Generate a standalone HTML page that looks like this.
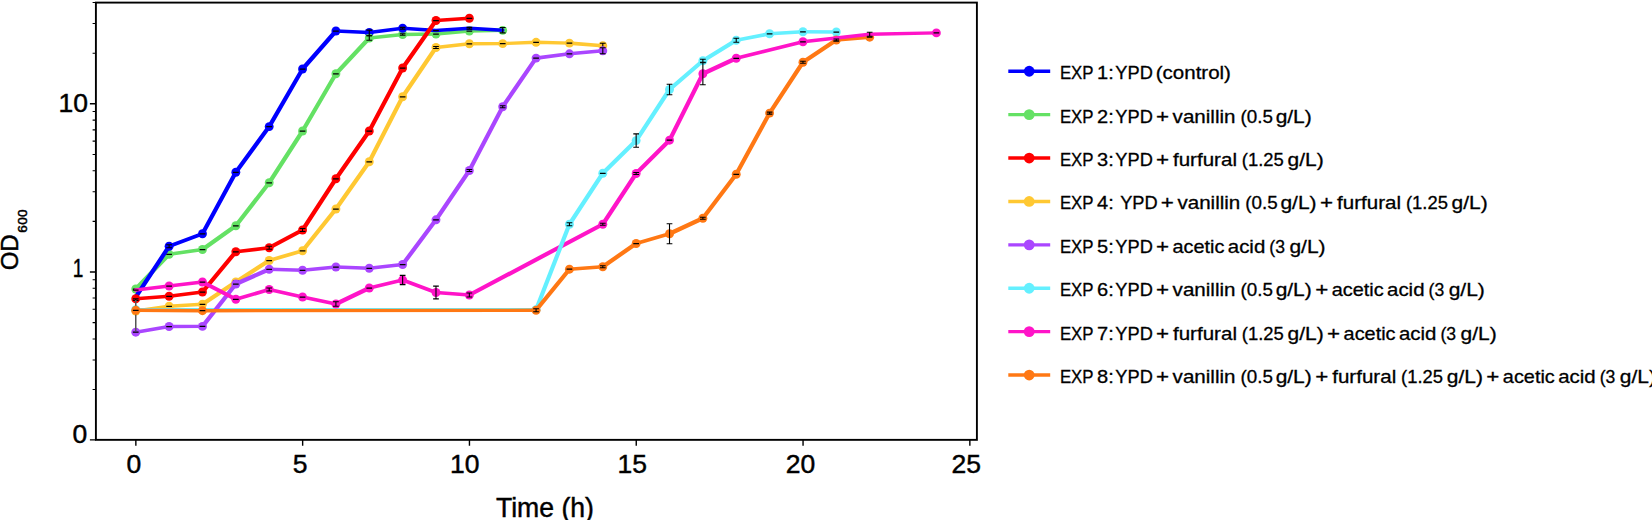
<!DOCTYPE html>
<html><head><meta charset="utf-8"><title>OD600 growth curves</title>
<style>html,body{margin:0;padding:0;background:#fff;overflow:hidden}svg{display:block}text{fill:#000;stroke:#000;stroke-width:.3px}.tl,.al{stroke-width:.45px}</style></head>
<body>
<svg width="1652" height="520" viewBox="0 0 1652 520">
<rect width="1652" height="520" fill="#fff"/>
<g>
<circle cx="369.27" cy="32.50" r="4.45" fill="#0000ff"/>
<path d="M135.75,289.00 L169.11,254.25" fill="none" stroke="#64e164" stroke-width="4.2" stroke-linejoin="round" stroke-linecap="round"/>
<path d="M169.11,254.25 L202.47,249.50" fill="none" stroke="#64e164" stroke-width="3.6" stroke-linejoin="round" stroke-linecap="round"/>
<path d="M202.47,249.50 L235.83,225.75 L269.19,182.75 L302.55,131.00 L335.91,73.75 L369.27,38.00" fill="none" stroke="#64e164" stroke-width="4.2" stroke-linejoin="round" stroke-linecap="round"/>
<path d="M369.27,38.00 L402.63,34.50" fill="none" stroke="#64e164" stroke-width="3.6" stroke-linejoin="round" stroke-linecap="round"/>
<path d="M402.63,34.50 L435.99,34.00" fill="none" stroke="#64e164" stroke-width="3.4" stroke-linejoin="round" stroke-linecap="round"/>
<path d="M435.99,34.00 L469.35,31.00" fill="none" stroke="#64e164" stroke-width="3.6" stroke-linejoin="round" stroke-linecap="round"/>
<path d="M469.35,31.00 L502.71,30.40" fill="none" stroke="#64e164" stroke-width="3.4" stroke-linejoin="round" stroke-linecap="round"/>
<circle cx="135.75" cy="289.00" r="4.45" fill="#64e164"/>
<circle cx="169.11" cy="254.25" r="4.45" fill="#64e164"/>
<circle cx="202.47" cy="249.50" r="4.45" fill="#64e164"/>
<circle cx="235.83" cy="225.75" r="4.45" fill="#64e164"/>
<circle cx="269.19" cy="182.75" r="4.45" fill="#64e164"/>
<circle cx="302.55" cy="131.00" r="4.45" fill="#64e164"/>
<circle cx="335.91" cy="73.75" r="4.45" fill="#64e164"/>
<circle cx="369.27" cy="38.00" r="4.45" fill="#64e164"/>
<circle cx="402.63" cy="34.50" r="4.45" fill="#64e164"/>
<circle cx="435.99" cy="34.00" r="4.45" fill="#64e164"/>
<circle cx="469.35" cy="31.00" r="4.45" fill="#64e164"/>
<circle cx="502.71" cy="30.40" r="4.45" fill="#64e164"/>
<path d="M132.90,289.00H138.60M166.26,254.25H171.96M199.62,249.50H205.32M232.98,225.75H238.68M266.34,182.75H272.04M299.70,131.00H305.40M333.06,73.75H338.76M433.14,34.00H438.84M466.50,31.00H472.20" stroke="#000" stroke-width="1.25" fill="none"/>
<path d="M369.27,35.70V40.30M366.42,35.70H372.12M366.42,40.30H372.12M402.63,33.70V35.30M399.78,33.70H405.48M399.78,35.30H405.48" stroke="#000" stroke-width="1.1" fill="none"/>
<path d="M135.75,297.00 L169.11,246.25" fill="none" stroke="#0000ff" stroke-width="4.2" stroke-linejoin="round" stroke-linecap="round"/>
<path d="M169.11,246.25 L202.47,233.75" fill="none" stroke="#0000ff" stroke-width="4.0" stroke-linejoin="round" stroke-linecap="round"/>
<path d="M202.47,233.75 L235.83,172.25 L269.19,126.60 L302.55,69.00 L335.91,31.00" fill="none" stroke="#0000ff" stroke-width="4.2" stroke-linejoin="round" stroke-linecap="round"/>
<path d="M335.91,31.00 L369.27,32.50" fill="none" stroke="#0000ff" stroke-width="3.4" stroke-linejoin="round" stroke-linecap="round"/>
<path d="M369.27,32.50 L402.63,28.25 L435.99,30.50 L469.35,28.25 L502.71,30.20" fill="none" stroke="#0000ff" stroke-width="3.6" stroke-linejoin="round" stroke-linecap="round"/>
<circle cx="169.11" cy="246.25" r="4.45" fill="#0000ff"/>
<circle cx="202.47" cy="233.75" r="4.45" fill="#0000ff"/>
<circle cx="235.83" cy="172.25" r="4.45" fill="#0000ff"/>
<circle cx="269.19" cy="126.60" r="4.45" fill="#0000ff"/>
<circle cx="302.55" cy="69.00" r="4.45" fill="#0000ff"/>
<circle cx="335.91" cy="31.00" r="4.45" fill="#0000ff"/>
<circle cx="402.63" cy="28.25" r="4.45" fill="#0000ff"/>
<path d="M199.62,233.75H205.32M232.98,172.25H238.68M266.34,126.60H272.04M299.70,69.00H305.40M333.06,31.00H338.76M433.14,30.50H438.84" stroke="#000" stroke-width="1.25" fill="none"/>
<path d="M169.11,244.75V247.75M166.26,244.75H171.96M166.26,247.75H171.96M369.27,30.10V35.70M366.42,30.10H372.12M366.42,35.70H372.12M402.63,27.35V29.15M399.78,27.35H405.48M399.78,29.15H405.48M469.35,27.35V29.15M466.50,27.35H472.20M466.50,29.15H472.20M502.71,27.50V32.90M499.86,27.50H505.56M499.86,32.90H505.56" stroke="#000" stroke-width="1.1" fill="none"/>
<path d="M135.75,311.00 L169.11,306.25 L202.47,304.25" fill="none" stroke="#ffc832" stroke-width="3.6" stroke-linejoin="round" stroke-linecap="round"/>
<path d="M202.47,304.25 L235.83,282.00 L269.19,260.50" fill="none" stroke="#ffc832" stroke-width="4.2" stroke-linejoin="round" stroke-linecap="round"/>
<path d="M269.19,260.50 L302.55,250.75" fill="none" stroke="#ffc832" stroke-width="3.8" stroke-linejoin="round" stroke-linecap="round"/>
<path d="M302.55,250.75 L335.91,209.00 L369.27,161.75 L402.63,96.75 L435.99,47.50" fill="none" stroke="#ffc832" stroke-width="4.2" stroke-linejoin="round" stroke-linecap="round"/>
<path d="M435.99,47.50 L469.35,43.75" fill="none" stroke="#ffc832" stroke-width="3.6" stroke-linejoin="round" stroke-linecap="round"/>
<path d="M469.35,43.75 L502.71,43.60 L536.07,42.30 L569.43,43.10" fill="none" stroke="#ffc832" stroke-width="3.4" stroke-linejoin="round" stroke-linecap="round"/>
<path d="M569.43,43.10 L602.79,45.70" fill="none" stroke="#ffc832" stroke-width="3.6" stroke-linejoin="round" stroke-linecap="round"/>
<circle cx="135.75" cy="311.00" r="4.45" fill="#ffc832"/>
<circle cx="169.11" cy="306.25" r="4.45" fill="#ffc832"/>
<circle cx="202.47" cy="304.25" r="4.45" fill="#ffc832"/>
<circle cx="235.83" cy="282.00" r="4.45" fill="#ffc832"/>
<circle cx="269.19" cy="260.50" r="4.45" fill="#ffc832"/>
<circle cx="302.55" cy="250.75" r="4.45" fill="#ffc832"/>
<circle cx="335.91" cy="209.00" r="4.45" fill="#ffc832"/>
<circle cx="369.27" cy="161.75" r="4.45" fill="#ffc832"/>
<circle cx="402.63" cy="96.75" r="4.45" fill="#ffc832"/>
<circle cx="435.99" cy="47.50" r="4.45" fill="#ffc832"/>
<circle cx="469.35" cy="43.75" r="4.45" fill="#ffc832"/>
<circle cx="502.71" cy="43.60" r="4.45" fill="#ffc832"/>
<circle cx="536.07" cy="42.30" r="4.45" fill="#ffc832"/>
<circle cx="569.43" cy="43.10" r="4.45" fill="#ffc832"/>
<circle cx="602.79" cy="45.70" r="4.45" fill="#ffc832"/>
<path d="M132.90,311.00H138.60M166.26,306.25H171.96M199.62,304.25H205.32M266.34,260.50H272.04M299.70,250.75H305.40M333.06,209.00H338.76M366.42,161.75H372.12M399.78,96.75H405.48M466.50,43.75H472.20M499.86,43.60H505.56M533.22,42.30H538.92M566.58,43.10H572.28" stroke="#000" stroke-width="1.25" fill="none"/>
<path d="M235.83,280.50V283.50M232.98,280.50H238.68M232.98,283.50H238.68M435.99,46.50V48.50M433.14,46.50H438.84M433.14,48.50H438.84M602.79,43.20V48.20M599.94,43.20H605.64M599.94,48.20H605.64" stroke="#000" stroke-width="1.1" fill="none"/>
<path d="M135.75,298.75 L169.11,296.25 L202.47,292.00" fill="none" stroke="#ff0000" stroke-width="3.6" stroke-linejoin="round" stroke-linecap="round"/>
<path d="M202.47,292.00 L235.83,251.75" fill="none" stroke="#ff0000" stroke-width="4.2" stroke-linejoin="round" stroke-linecap="round"/>
<path d="M235.83,251.75 L269.19,247.75" fill="none" stroke="#ff0000" stroke-width="3.6" stroke-linejoin="round" stroke-linecap="round"/>
<path d="M269.19,247.75 L302.55,230.00 L335.91,178.75 L369.27,131.00 L402.63,68.00 L435.99,20.50" fill="none" stroke="#ff0000" stroke-width="4.2" stroke-linejoin="round" stroke-linecap="round"/>
<path d="M435.99,20.50 L469.35,18.25" fill="none" stroke="#ff0000" stroke-width="3.6" stroke-linejoin="round" stroke-linecap="round"/>
<circle cx="135.75" cy="298.75" r="4.45" fill="#ff0000"/>
<circle cx="169.11" cy="296.25" r="4.45" fill="#ff0000"/>
<circle cx="202.47" cy="292.00" r="4.45" fill="#ff0000"/>
<circle cx="235.83" cy="251.75" r="4.45" fill="#ff0000"/>
<circle cx="269.19" cy="247.75" r="4.45" fill="#ff0000"/>
<circle cx="302.55" cy="230.00" r="4.45" fill="#ff0000"/>
<circle cx="335.91" cy="178.75" r="4.45" fill="#ff0000"/>
<circle cx="369.27" cy="131.00" r="4.45" fill="#ff0000"/>
<circle cx="402.63" cy="68.00" r="4.45" fill="#ff0000"/>
<circle cx="435.99" cy="20.50" r="4.45" fill="#ff0000"/>
<circle cx="469.35" cy="18.25" r="4.45" fill="#ff0000"/>
<path d="M166.26,296.25H171.96M199.62,292.00H205.32M232.98,251.75H238.68M333.06,178.75H338.76M366.42,131.00H372.12M399.78,68.00H405.48M433.14,20.50H438.84M466.50,18.25H472.20" stroke="#000" stroke-width="1.25" fill="none"/>
<path d="M135.75,298.80V300.40M132.90,298.80H138.60M132.90,300.40H138.60M269.19,246.25V249.25M266.34,246.25H272.04M266.34,249.25H272.04M302.55,228.50V231.50M299.70,228.50H305.40M299.70,231.50H305.40" stroke="#000" stroke-width="1.1" fill="none"/>
<path d="M469.35,295.00 L602.79,224.25" fill="none" stroke="#ff14c8" stroke-width="4.2" stroke-linejoin="round" stroke-linecap="round"/>
<path d="M135.75,309.65 L536.07,309.65" fill="none" stroke="#64f0ff" stroke-width="3.4" stroke-linejoin="round" stroke-linecap="round"/>
<path d="M536.07,309.65 L569.43,224.25 L602.79,173.25 L636.15,140.60 L669.51,89.50 L702.87,60.75 L736.23,40.25" fill="none" stroke="#64f0ff" stroke-width="4.2" stroke-linejoin="round" stroke-linecap="round"/>
<path d="M736.23,40.25 L769.59,33.75" fill="none" stroke="#64f0ff" stroke-width="3.8" stroke-linejoin="round" stroke-linecap="round"/>
<path d="M769.59,33.75 L802.95,31.75" fill="none" stroke="#64f0ff" stroke-width="3.6" stroke-linejoin="round" stroke-linecap="round"/>
<path d="M802.95,31.75 L836.31,32.00" fill="none" stroke="#64f0ff" stroke-width="3.4" stroke-linejoin="round" stroke-linecap="round"/>
<circle cx="135.75" cy="309.65" r="4.45" fill="#64f0ff"/>
<circle cx="536.07" cy="309.65" r="4.45" fill="#64f0ff"/>
<circle cx="569.43" cy="224.25" r="4.45" fill="#64f0ff"/>
<circle cx="602.79" cy="173.25" r="4.45" fill="#64f0ff"/>
<circle cx="636.15" cy="140.60" r="4.45" fill="#64f0ff"/>
<circle cx="669.51" cy="89.50" r="4.45" fill="#64f0ff"/>
<circle cx="702.87" cy="60.75" r="4.45" fill="#64f0ff"/>
<circle cx="736.23" cy="40.25" r="4.45" fill="#64f0ff"/>
<circle cx="769.59" cy="33.75" r="4.45" fill="#64f0ff"/>
<circle cx="802.95" cy="31.75" r="4.45" fill="#64f0ff"/>
<circle cx="836.31" cy="32.00" r="4.45" fill="#64f0ff"/>
<path d="M132.90,309.65H138.60M533.22,309.65H538.92M599.94,173.25H605.64M766.74,33.75H772.44M800.10,31.75H805.80M833.46,32.00H839.16" stroke="#000" stroke-width="1.25" fill="none"/>
<path d="M569.43,222.75V225.75M566.58,222.75H572.28M566.58,225.75H572.28M636.15,133.90V147.30M633.30,133.90H639.00M633.30,147.30H639.00M669.51,84.30V94.70M666.66,84.30H672.36M666.66,94.70H672.36M702.87,59.25V62.25M700.02,59.25H705.72M700.02,62.25H705.72M736.23,38.25V42.25M733.38,38.25H739.08M733.38,42.25H739.08" stroke="#000" stroke-width="1.1" fill="none"/>
<path d="M135.75,332.20 L169.11,326.50" fill="none" stroke="#aa46ff" stroke-width="3.6" stroke-linejoin="round" stroke-linecap="round"/>
<path d="M169.11,326.50 L202.47,326.40" fill="none" stroke="#aa46ff" stroke-width="3.4" stroke-linejoin="round" stroke-linecap="round"/>
<path d="M202.47,326.40 L235.83,284.00 L269.19,269.25" fill="none" stroke="#aa46ff" stroke-width="4.2" stroke-linejoin="round" stroke-linecap="round"/>
<path d="M269.19,269.25 L302.55,270.25" fill="none" stroke="#aa46ff" stroke-width="3.4" stroke-linejoin="round" stroke-linecap="round"/>
<path d="M302.55,270.25 L335.91,267.00" fill="none" stroke="#aa46ff" stroke-width="3.6" stroke-linejoin="round" stroke-linecap="round"/>
<path d="M335.91,267.00 L369.27,268.25" fill="none" stroke="#aa46ff" stroke-width="3.4" stroke-linejoin="round" stroke-linecap="round"/>
<path d="M369.27,268.25 L402.63,264.50" fill="none" stroke="#aa46ff" stroke-width="3.6" stroke-linejoin="round" stroke-linecap="round"/>
<path d="M402.63,264.50 L435.99,219.80 L469.35,170.50 L502.71,106.75 L536.07,58.10" fill="none" stroke="#aa46ff" stroke-width="4.2" stroke-linejoin="round" stroke-linecap="round"/>
<path d="M536.07,58.10 L569.43,53.80 L602.79,50.80" fill="none" stroke="#aa46ff" stroke-width="3.6" stroke-linejoin="round" stroke-linecap="round"/>
<circle cx="135.75" cy="332.20" r="4.45" fill="#aa46ff"/>
<circle cx="169.11" cy="326.50" r="4.45" fill="#aa46ff"/>
<circle cx="202.47" cy="326.40" r="4.45" fill="#aa46ff"/>
<circle cx="235.83" cy="284.00" r="4.45" fill="#aa46ff"/>
<circle cx="269.19" cy="269.25" r="4.45" fill="#aa46ff"/>
<circle cx="302.55" cy="270.25" r="4.45" fill="#aa46ff"/>
<circle cx="335.91" cy="267.00" r="4.45" fill="#aa46ff"/>
<circle cx="369.27" cy="268.25" r="4.45" fill="#aa46ff"/>
<circle cx="402.63" cy="264.50" r="4.45" fill="#aa46ff"/>
<circle cx="435.99" cy="219.80" r="4.45" fill="#aa46ff"/>
<circle cx="469.35" cy="170.50" r="4.45" fill="#aa46ff"/>
<circle cx="502.71" cy="106.75" r="4.45" fill="#aa46ff"/>
<circle cx="536.07" cy="58.10" r="4.45" fill="#aa46ff"/>
<circle cx="569.43" cy="53.80" r="4.45" fill="#aa46ff"/>
<circle cx="602.79" cy="50.80" r="4.45" fill="#aa46ff"/>
<path d="M135.75,300V331" stroke="#555" stroke-width="1.5" fill="none"/>
<path d="M132.90,332.20H138.60M166.26,326.50H171.96M199.62,326.40H205.32M232.98,284.00H238.68M266.34,269.25H272.04M299.70,270.25H305.40M333.06,267.00H338.76M366.42,268.25H372.12M399.78,264.50H405.48M433.14,219.80H438.84M533.22,58.10H538.92M566.58,53.80H572.28" stroke="#000" stroke-width="1.25" fill="none"/>
<path d="M469.35,169.50V171.50M466.50,169.50H472.20M466.50,171.50H472.20M502.71,105.75V107.75M499.86,105.75H505.56M499.86,107.75H505.56M602.79,47.80V53.80M599.94,47.80H605.64M599.94,53.80H605.64" stroke="#000" stroke-width="1.1" fill="none"/>
<path d="M135.75,310.30 L202.47,310.70 L536.07,310.30" fill="none" stroke="#ff7814" stroke-width="3.4" stroke-linejoin="round" stroke-linecap="round"/>
<path d="M536.07,310.30 L569.43,269.20" fill="none" stroke="#ff7814" stroke-width="4.2" stroke-linejoin="round" stroke-linecap="round"/>
<path d="M569.43,269.20 L602.79,266.75" fill="none" stroke="#ff7814" stroke-width="3.6" stroke-linejoin="round" stroke-linecap="round"/>
<path d="M602.79,266.75 L636.15,243.50" fill="none" stroke="#ff7814" stroke-width="4.2" stroke-linejoin="round" stroke-linecap="round"/>
<path d="M636.15,243.50 L669.51,233.75" fill="none" stroke="#ff7814" stroke-width="3.8" stroke-linejoin="round" stroke-linecap="round"/>
<path d="M669.51,233.75 L702.87,218.25 L736.23,174.25 L769.59,113.10 L802.95,62.25 L836.31,40.00" fill="none" stroke="#ff7814" stroke-width="4.2" stroke-linejoin="round" stroke-linecap="round"/>
<path d="M836.31,40.00 L869.67,37.20" fill="none" stroke="#ff7814" stroke-width="3.6" stroke-linejoin="round" stroke-linecap="round"/>
<circle cx="135.75" cy="310.30" r="4.45" fill="#ff7814"/>
<circle cx="202.47" cy="310.70" r="4.45" fill="#ff7814"/>
<circle cx="536.07" cy="310.30" r="4.45" fill="#ff7814"/>
<circle cx="569.43" cy="269.20" r="4.45" fill="#ff7814"/>
<circle cx="602.79" cy="266.75" r="4.45" fill="#ff7814"/>
<circle cx="636.15" cy="243.50" r="4.45" fill="#ff7814"/>
<circle cx="669.51" cy="233.75" r="4.45" fill="#ff7814"/>
<circle cx="702.87" cy="218.25" r="4.45" fill="#ff7814"/>
<circle cx="736.23" cy="174.25" r="4.45" fill="#ff7814"/>
<circle cx="769.59" cy="113.10" r="4.45" fill="#ff7814"/>
<circle cx="802.95" cy="62.25" r="4.45" fill="#ff7814"/>
<circle cx="836.31" cy="40.00" r="4.45" fill="#ff7814"/>
<circle cx="869.67" cy="37.20" r="4.45" fill="#ff7814"/>
<path d="M132.90,310.30H138.60M199.62,310.70H205.32M566.58,269.20H572.28M633.30,243.50H639.00M733.38,174.25H739.08M866.82,37.20H872.52" stroke="#000" stroke-width="1.25" fill="none"/>
<path d="M536.07,308.80V311.80M533.22,308.80H538.92M533.22,311.80H538.92M602.79,265.75V267.75M599.94,265.75H605.64M599.94,267.75H605.64M669.51,223.75V243.75M666.66,223.75H672.36M666.66,243.75H672.36M702.87,217.25V219.25M700.02,217.25H705.72M700.02,219.25H705.72M769.59,112.10V114.10M766.74,112.10H772.44M766.74,114.10H772.44M802.95,61.25V63.25M800.10,61.25H805.80M800.10,63.25H805.80M836.31,39.00V41.00M833.46,39.00H839.16M833.46,41.00H839.16" stroke="#000" stroke-width="1.1" fill="none"/>
<path d="M135.75,290.00 L169.11,286.00 L202.47,282.00" fill="none" stroke="#ff14c8" stroke-width="3.6" stroke-linejoin="round" stroke-linecap="round"/>
<path d="M202.47,282.00 L235.83,299.25" fill="none" stroke="#ff14c8" stroke-width="4.2" stroke-linejoin="round" stroke-linecap="round"/>
<path d="M235.83,299.25 L269.19,289.50 L302.55,297.00 L335.91,304.00" fill="none" stroke="#ff14c8" stroke-width="3.8" stroke-linejoin="round" stroke-linecap="round"/>
<path d="M335.91,304.00 L369.27,288.00" fill="none" stroke="#ff14c8" stroke-width="4.2" stroke-linejoin="round" stroke-linecap="round"/>
<path d="M369.27,288.00 L402.63,280.00" fill="none" stroke="#ff14c8" stroke-width="3.8" stroke-linejoin="round" stroke-linecap="round"/>
<path d="M402.63,280.00 L435.99,292.50" fill="none" stroke="#ff14c8" stroke-width="4.0" stroke-linejoin="round" stroke-linecap="round"/>
<path d="M435.99,292.50 L469.35,295.00" fill="none" stroke="#ff14c8" stroke-width="3.6" stroke-linejoin="round" stroke-linecap="round"/>
<path d="M602.79,224.25 L636.15,173.50 L669.51,140.20 L702.87,73.75 L736.23,58.25" fill="none" stroke="#ff14c8" stroke-width="4.2" stroke-linejoin="round" stroke-linecap="round"/>
<path d="M736.23,58.25 L802.95,41.75" fill="none" stroke="#ff14c8" stroke-width="3.8" stroke-linejoin="round" stroke-linecap="round"/>
<path d="M802.95,41.75 L869.67,34.20" fill="none" stroke="#ff14c8" stroke-width="3.6" stroke-linejoin="round" stroke-linecap="round"/>
<path d="M869.67,34.20 L936.39,32.90" fill="none" stroke="#ff14c8" stroke-width="3.4" stroke-linejoin="round" stroke-linecap="round"/>
<circle cx="169.11" cy="286.00" r="4.45" fill="#ff14c8"/>
<circle cx="202.47" cy="282.00" r="4.45" fill="#ff14c8"/>
<circle cx="235.83" cy="299.25" r="4.45" fill="#ff14c8"/>
<circle cx="269.19" cy="289.50" r="4.45" fill="#ff14c8"/>
<circle cx="302.55" cy="297.00" r="4.45" fill="#ff14c8"/>
<circle cx="335.91" cy="304.00" r="4.45" fill="#ff14c8"/>
<circle cx="369.27" cy="288.00" r="4.45" fill="#ff14c8"/>
<circle cx="402.63" cy="280.00" r="4.45" fill="#ff14c8"/>
<circle cx="435.99" cy="292.50" r="4.45" fill="#ff14c8"/>
<circle cx="469.35" cy="295.00" r="4.45" fill="#ff14c8"/>
<circle cx="602.79" cy="224.25" r="4.45" fill="#ff14c8"/>
<circle cx="636.15" cy="173.50" r="4.45" fill="#ff14c8"/>
<circle cx="669.51" cy="140.20" r="4.45" fill="#ff14c8"/>
<circle cx="702.87" cy="73.75" r="4.45" fill="#ff14c8"/>
<circle cx="736.23" cy="58.25" r="4.45" fill="#ff14c8"/>
<circle cx="802.95" cy="41.75" r="4.45" fill="#ff14c8"/>
<circle cx="936.39" cy="32.90" r="4.45" fill="#ff14c8"/>
<path d="M132.90,290.00H138.60M166.26,286.00H171.96M199.62,282.00H205.32M232.98,299.25H238.68M299.70,297.00H305.40M366.42,288.00H372.12M666.66,140.20H672.36M733.38,58.25H739.08M800.10,41.75H805.80M933.54,32.90H939.24" stroke="#000" stroke-width="1.25" fill="none"/>
<path d="M269.19,288.00V291.00M266.34,288.00H272.04M266.34,291.00H272.04M335.91,301.80V306.20M333.06,301.80H338.76M333.06,306.20H338.76M402.63,275.40V284.60M399.78,275.40H405.48M399.78,284.60H405.48M435.99,286.10V298.90M433.14,286.10H438.84M433.14,298.90H438.84M469.35,293.00V297.00M466.50,293.00H472.20M466.50,297.00H472.20M602.79,223.25V225.25M599.94,223.25H605.64M599.94,225.25H605.64M636.15,172.50V174.50M633.30,172.50H639.00M633.30,174.50H639.00M702.87,62.75V84.75M700.02,62.75H705.72M700.02,84.75H705.72M869.67,32.20V36.20M866.82,32.20H872.52M866.82,36.20H872.52" stroke="#000" stroke-width="1.1" fill="none"/>
<path d="M836.31,39.00V41.00M833.46,39.00H839.16M833.46,41.00H839.16" stroke="#000" stroke-width="1.1" fill="none"/>
</g>
<rect x="95.9" y="2.6" width="881.0" height="437.25" fill="none" stroke="#000" stroke-width="1.9"/>
<path d="M135.85,439.85V445.75M302.65,439.85V445.75M469.45,439.85V445.75M636.25,439.85V445.75M803.05,439.85V445.75M969.85,439.85V445.75M95.9,272.00H89.9M95.9,103.80H89.9M95.9,439.85H89.9" stroke="#000" stroke-width="1.4" fill="none"/>
<path d="M95.9,389.57H92.60000000000001M95.9,359.95H92.60000000000001M95.9,338.93H92.60000000000001M95.9,322.63H92.60000000000001M95.9,309.31H92.60000000000001M95.9,298.05H92.60000000000001M95.9,288.30H92.60000000000001M95.9,279.70H92.60000000000001M95.9,221.37H92.60000000000001M95.9,191.75H92.60000000000001M95.9,170.73H92.60000000000001M95.9,154.43H92.60000000000001M95.9,141.11H92.60000000000001M95.9,129.85H92.60000000000001M95.9,120.10H92.60000000000001M95.9,111.50H92.60000000000001M95.9,53.17H92.60000000000001M95.9,23.55H92.60000000000001M95.9,2.53H92.60000000000001" stroke="#000" stroke-width="1.05" fill="none"/>
<text class="tl" x="133.89" y="473.05" font-size="26.5" text-anchor="middle" font-family="Liberation Sans, sans-serif">0</text>
<text class="tl" x="300.11" y="473.05" font-size="26.5" text-anchor="middle" font-family="Liberation Sans, sans-serif">5</text>
<text class="tl" x="464.82" y="473.05" font-size="26.5" text-anchor="middle" font-family="Liberation Sans, sans-serif">10</text>
<text class="tl" x="632.18" y="473.05" font-size="26.5" text-anchor="middle" font-family="Liberation Sans, sans-serif">15</text>
<text class="tl" x="800.55" y="473.05" font-size="26.5" text-anchor="middle" font-family="Liberation Sans, sans-serif">20</text>
<text class="tl" x="966.15" y="473.05" font-size="26.5" text-anchor="middle" font-family="Liberation Sans, sans-serif">25</text>
<text class="tl" x="79.75" y="442.90" font-size="26.5" text-anchor="middle" font-family="Liberation Sans, sans-serif">0</text>
<text class="tl" x="77.98" y="276.79" font-size="26.5" text-anchor="middle" textLength="10.6" lengthAdjust="spacingAndGlyphs" font-family="Liberation Sans, sans-serif">1</text>
<text class="tl" x="73.29" y="111.63" font-size="26.5" text-anchor="middle" font-family="Liberation Sans, sans-serif">10</text>
<text class="al" x="544.92" y="516.50" font-size="27" text-anchor="middle" textLength="98" lengthAdjust="spacingAndGlyphs" font-family="Liberation Sans, sans-serif">Time (h)</text>
<text class="al" transform="translate(17.7,270.3) rotate(-90)" font-size="24" font-family="Liberation Sans, sans-serif">OD<tspan font-size="13.6" dy="9.3" dx="1.6" letter-spacing="0.35">600</tspan></text>
<path d="M1008.3,71.25H1050.2" stroke="#0000ff" stroke-width="3.4" fill="none"/><circle cx="1029.2" cy="71.25" r="5.4" fill="#0000ff"/>
<text y="79.25" font-size="18.5" font-family="Liberation Sans, sans-serif"><tspan x="1059.91" textLength="33.32" lengthAdjust="spacingAndGlyphs">EXP</tspan> <tspan x="1097.01" textLength="16.72" lengthAdjust="spacingAndGlyphs">1:</tspan> <tspan x="1115.35" textLength="37.50" lengthAdjust="spacingAndGlyphs">YPD</tspan> <tspan x="1155.80" textLength="75.16" lengthAdjust="spacingAndGlyphs">(control)</tspan></text>
<path d="M1008.3,114.65H1050.2" stroke="#64e164" stroke-width="3.4" fill="none"/><circle cx="1029.2" cy="114.65" r="5.4" fill="#64e164"/>
<text y="122.65" font-size="18.5" font-family="Liberation Sans, sans-serif"><tspan x="1059.91" textLength="33.32" lengthAdjust="spacingAndGlyphs">EXP</tspan> <tspan x="1097.01" textLength="16.72" lengthAdjust="spacingAndGlyphs">2:</tspan> <tspan x="1115.35" textLength="37.50" lengthAdjust="spacingAndGlyphs">YPD</tspan> <tspan x="1155.97" textLength="13.08" lengthAdjust="spacingAndGlyphs">+</tspan> <tspan x="1172.64" textLength="62.88" lengthAdjust="spacingAndGlyphs">vanillin</tspan> <tspan x="1240.46" textLength="32.39" lengthAdjust="spacingAndGlyphs">(0.5</tspan> <tspan x="1275.65" textLength="36.08" lengthAdjust="spacingAndGlyphs">g/L)</tspan></text>
<path d="M1008.3,158.05H1050.2" stroke="#ff0000" stroke-width="3.4" fill="none"/><circle cx="1029.2" cy="158.05" r="5.4" fill="#ff0000"/>
<text y="166.05" font-size="18.5" font-family="Liberation Sans, sans-serif"><tspan x="1059.91" textLength="33.32" lengthAdjust="spacingAndGlyphs">EXP</tspan> <tspan x="1097.01" textLength="16.72" lengthAdjust="spacingAndGlyphs">3:</tspan> <tspan x="1115.35" textLength="37.50" lengthAdjust="spacingAndGlyphs">YPD</tspan> <tspan x="1155.97" textLength="13.08" lengthAdjust="spacingAndGlyphs">+</tspan> <tspan x="1172.99" textLength="63.96" lengthAdjust="spacingAndGlyphs">furfural</tspan> <tspan x="1241.87" textLength="41.97" lengthAdjust="spacingAndGlyphs">(1.25</tspan> <tspan x="1287.55" textLength="36.08" lengthAdjust="spacingAndGlyphs">g/L)</tspan></text>
<path d="M1008.3,201.45H1050.2" stroke="#ffc832" stroke-width="3.4" fill="none"/><circle cx="1029.2" cy="201.45" r="5.4" fill="#ffc832"/>
<text y="209.45" font-size="18.5" font-family="Liberation Sans, sans-serif"><tspan x="1059.91" textLength="33.32" lengthAdjust="spacingAndGlyphs">EXP</tspan> <tspan x="1097.01" textLength="16.72" lengthAdjust="spacingAndGlyphs">4:</tspan>  <tspan x="1120.15" textLength="37.50" lengthAdjust="spacingAndGlyphs">YPD</tspan> <tspan x="1160.77" textLength="13.08" lengthAdjust="spacingAndGlyphs">+</tspan> <tspan x="1177.44" textLength="62.88" lengthAdjust="spacingAndGlyphs">vanillin</tspan> <tspan x="1245.26" textLength="32.39" lengthAdjust="spacingAndGlyphs">(0.5</tspan> <tspan x="1280.45" textLength="36.08" lengthAdjust="spacingAndGlyphs">g/L)</tspan> <tspan x="1320.02" textLength="13.08" lengthAdjust="spacingAndGlyphs">+</tspan> <tspan x="1337.04" textLength="63.96" lengthAdjust="spacingAndGlyphs">furfural</tspan> <tspan x="1405.92" textLength="41.97" lengthAdjust="spacingAndGlyphs">(1.25</tspan> <tspan x="1451.60" textLength="36.08" lengthAdjust="spacingAndGlyphs">g/L)</tspan></text>
<path d="M1008.3,244.85H1050.2" stroke="#aa46ff" stroke-width="3.4" fill="none"/><circle cx="1029.2" cy="244.85" r="5.4" fill="#aa46ff"/>
<text y="252.85" font-size="18.5" font-family="Liberation Sans, sans-serif"><tspan x="1059.91" textLength="33.32" lengthAdjust="spacingAndGlyphs">EXP</tspan> <tspan x="1097.01" textLength="16.72" lengthAdjust="spacingAndGlyphs">5:</tspan> <tspan x="1115.35" textLength="37.50" lengthAdjust="spacingAndGlyphs">YPD</tspan> <tspan x="1155.97" textLength="13.08" lengthAdjust="spacingAndGlyphs">+</tspan> <tspan x="1172.49" textLength="51.87" lengthAdjust="spacingAndGlyphs">acetic</tspan> <tspan x="1227.81" textLength="37.48" lengthAdjust="spacingAndGlyphs">acid</tspan> <tspan x="1269.31" textLength="15.67" lengthAdjust="spacingAndGlyphs">(3</tspan> <tspan x="1289.45" textLength="36.08" lengthAdjust="spacingAndGlyphs">g/L)</tspan></text>
<path d="M1008.3,288.25H1050.2" stroke="#64f0ff" stroke-width="3.4" fill="none"/><circle cx="1029.2" cy="288.25" r="5.4" fill="#64f0ff"/>
<text y="296.25" font-size="18.5" font-family="Liberation Sans, sans-serif"><tspan x="1059.91" textLength="33.32" lengthAdjust="spacingAndGlyphs">EXP</tspan> <tspan x="1097.01" textLength="16.72" lengthAdjust="spacingAndGlyphs">6:</tspan> <tspan x="1115.35" textLength="37.50" lengthAdjust="spacingAndGlyphs">YPD</tspan> <tspan x="1155.97" textLength="13.08" lengthAdjust="spacingAndGlyphs">+</tspan> <tspan x="1172.64" textLength="62.88" lengthAdjust="spacingAndGlyphs">vanillin</tspan> <tspan x="1240.46" textLength="32.39" lengthAdjust="spacingAndGlyphs">(0.5</tspan> <tspan x="1275.65" textLength="36.08" lengthAdjust="spacingAndGlyphs">g/L)</tspan> <tspan x="1315.22" textLength="13.08" lengthAdjust="spacingAndGlyphs">+</tspan> <tspan x="1331.74" textLength="51.87" lengthAdjust="spacingAndGlyphs">acetic</tspan> <tspan x="1387.06" textLength="37.48" lengthAdjust="spacingAndGlyphs">acid</tspan> <tspan x="1428.56" textLength="15.67" lengthAdjust="spacingAndGlyphs">(3</tspan> <tspan x="1448.70" textLength="36.08" lengthAdjust="spacingAndGlyphs">g/L)</tspan></text>
<path d="M1008.3,331.65H1050.2" stroke="#ff14c8" stroke-width="3.4" fill="none"/><circle cx="1029.2" cy="331.65" r="5.4" fill="#ff14c8"/>
<text y="339.65" font-size="18.5" font-family="Liberation Sans, sans-serif"><tspan x="1059.91" textLength="33.32" lengthAdjust="spacingAndGlyphs">EXP</tspan> <tspan x="1097.01" textLength="16.72" lengthAdjust="spacingAndGlyphs">7:</tspan> <tspan x="1115.35" textLength="37.50" lengthAdjust="spacingAndGlyphs">YPD</tspan> <tspan x="1155.97" textLength="13.08" lengthAdjust="spacingAndGlyphs">+</tspan> <tspan x="1172.99" textLength="63.96" lengthAdjust="spacingAndGlyphs">furfural</tspan> <tspan x="1241.87" textLength="41.97" lengthAdjust="spacingAndGlyphs">(1.25</tspan> <tspan x="1287.55" textLength="36.08" lengthAdjust="spacingAndGlyphs">g/L)</tspan> <tspan x="1327.12" textLength="13.08" lengthAdjust="spacingAndGlyphs">+</tspan> <tspan x="1343.64" textLength="51.87" lengthAdjust="spacingAndGlyphs">acetic</tspan> <tspan x="1398.96" textLength="37.48" lengthAdjust="spacingAndGlyphs">acid</tspan> <tspan x="1440.46" textLength="15.67" lengthAdjust="spacingAndGlyphs">(3</tspan> <tspan x="1460.60" textLength="36.08" lengthAdjust="spacingAndGlyphs">g/L)</tspan></text>
<path d="M1008.3,375.05H1050.2" stroke="#ff7814" stroke-width="3.4" fill="none"/><circle cx="1029.2" cy="375.05" r="5.4" fill="#ff7814"/>
<text y="383.05" font-size="18.5" font-family="Liberation Sans, sans-serif"><tspan x="1059.91" textLength="33.32" lengthAdjust="spacingAndGlyphs">EXP</tspan> <tspan x="1097.01" textLength="16.72" lengthAdjust="spacingAndGlyphs">8:</tspan> <tspan x="1115.35" textLength="37.50" lengthAdjust="spacingAndGlyphs">YPD</tspan> <tspan x="1155.97" textLength="13.08" lengthAdjust="spacingAndGlyphs">+</tspan> <tspan x="1172.64" textLength="62.88" lengthAdjust="spacingAndGlyphs">vanillin</tspan> <tspan x="1240.46" textLength="32.39" lengthAdjust="spacingAndGlyphs">(0.5</tspan> <tspan x="1275.65" textLength="36.08" lengthAdjust="spacingAndGlyphs">g/L)</tspan> <tspan x="1315.22" textLength="13.08" lengthAdjust="spacingAndGlyphs">+</tspan> <tspan x="1332.24" textLength="63.96" lengthAdjust="spacingAndGlyphs">furfural</tspan> <tspan x="1401.12" textLength="41.97" lengthAdjust="spacingAndGlyphs">(1.25</tspan> <tspan x="1446.80" textLength="36.08" lengthAdjust="spacingAndGlyphs">g/L)</tspan> <tspan x="1486.37" textLength="13.08" lengthAdjust="spacingAndGlyphs">+</tspan> <tspan x="1502.89" textLength="51.87" lengthAdjust="spacingAndGlyphs">acetic</tspan> <tspan x="1558.21" textLength="37.48" lengthAdjust="spacingAndGlyphs">acid</tspan> <tspan x="1599.71" textLength="15.67" lengthAdjust="spacingAndGlyphs">(3</tspan> <tspan x="1619.85" textLength="36.08" lengthAdjust="spacingAndGlyphs">g/L)</tspan></text>
</svg>
</body></html>
